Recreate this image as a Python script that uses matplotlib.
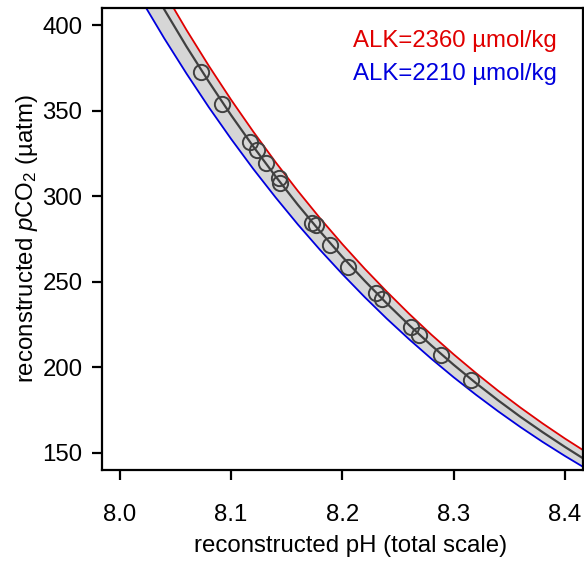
import matplotlib
matplotlib.use("Agg")
import matplotlib.pyplot as plt

plt.rcParams['font.family'] = ['Liberation Sans', 'DejaVu Sans']
plt.rcParams['mathtext.fontset'] = 'custom'
plt.rcParams['mathtext.rm'] = 'Liberation Sans'
plt.rcParams['mathtext.it'] = 'Liberation Sans:italic'

# curve grid (pH) and pCO2
ph_grid = [8.00, 8.02, 8.04, 8.06, 8.08, 8.10, 8.12, 8.14, 8.16, 8.18, 8.20,
           8.22, 8.24, 8.26, 8.28, 8.30, 8.32, 8.34, 8.36, 8.38, 8.40, 8.42]
pco2_high_alk = [467.0, 442.4, 419.2, 397.1, 376.2, 356.4, 337.7, 319.9, 303.1, 287.1, 272.0,
                 257.7, 244.2, 231.3, 219.1, 207.6, 196.7, 186.3, 176.5, 167.2, 158.4, 150.1]
pco2_mid = [456.2, 432.0, 409.1, 387.4, 366.9, 347.4, 329.0, 311.6, 295.0, 279.4, 264.6,
            250.6, 237.3, 224.7, 212.8, 201.5, 190.8, 180.7, 171.1, 162.1, 153.5, 145.3]
pco2_low_alk = [437.0, 414.0, 392.2, 371.6, 352.0, 333.5, 315.9, 299.3, 283.5, 268.6, 254.5,
                241.1, 228.4, 216.4, 205.0, 194.2, 184.0, 174.3, 165.1, 156.4, 148.2, 140.4]

# reconstructed samples
sample_ph = [8.073, 8.092, 8.117, 8.123, 8.131, 8.143, 8.144, 8.173, 8.176, 8.189,
             8.205, 8.230, 8.236, 8.262, 8.269, 8.289, 8.316]
sample_pco2 = [372.8, 353.8, 331.8, 326.9, 319.5, 310.7, 307.8, 284.4, 283.0, 271.3,
               258.5, 243.5, 239.8, 223.6, 218.7, 207.0, 192.4]

labels = ["ALK=2360 µmol/kg", "ALK=2210 µmol/kg"]
label_colors = ["#E00000", "#0000DD"]

FS = 17.3

fig = plt.figure(figsize=(5.84, 5.63), dpi=100)
W, H = 584, 563
left, right, top, bottom = 102, 582.7, 8, 470
ax = fig.add_axes([left / W, 1 - bottom / H, (right - left) / W, (bottom - top) / H])

ax.fill_between(ph_grid, pco2_low_alk, pco2_high_alk, color="#D6D6D6", lw=0)
ax.plot(ph_grid, pco2_high_alk, color=label_colors[0], lw=1.3)
ax.plot(ph_grid, pco2_low_alk, color=label_colors[1], lw=1.3)
ax.plot(ph_grid, pco2_mid, color="#404040", lw=1.6)
ax.plot(sample_ph, sample_pco2, ls="none", marker="o", ms=11, mfc="none",
        mec="#404040", mew=1.4)

ax.set_xlim(7.984, 8.416)
ax.set_ylim(140, 410)
ax.set_xticks([8.0, 8.1, 8.2, 8.3, 8.4])
ax.set_xticklabels(["8.0", "8.1", "8.2", "8.3", "8.4"])
ax.set_yticks([150, 200, 250, 300, 350, 400])

for s in ax.spines.values():
    s.set_linewidth(1.6)
ax.tick_params(axis="both", labelsize=FS, width=1.6, length=7, color="black")
ax.tick_params(axis="x", pad=17.5)
ax.tick_params(axis="y", pad=7)

ax.set_xlabel("reconstructed pH (total scale)", fontsize=FS)
ax.set_ylabel(r"reconstructed $\it{p}$CO$_2$ (µatm)", fontsize=FS)
ax.xaxis.set_label_coords(0.518, -0.1775, transform=ax.transAxes)
ax.xaxis.label.set_va("baseline")
ax.yaxis.set_label_coords(-0.156, 0.5, transform=ax.transAxes)
ax.yaxis.label.set_va("center")

ax.text(0.9465, 0.916, labels[0], transform=ax.transAxes, ha="right", va="baseline",
        color=label_colors[0], fontsize=FS)
ax.text(0.9465, 0.844, labels[1], transform=ax.transAxes, ha="right", va="baseline",
        color=label_colors[1], fontsize=FS)

fig.savefig("out.png", dpi=100)
